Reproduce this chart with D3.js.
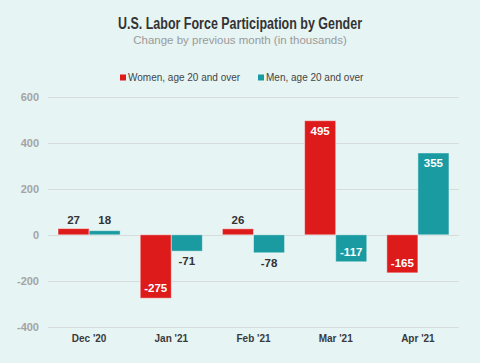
<!DOCTYPE html>
<html>
<head>
<meta charset="utf-8">
<script src="https://cdn.jsdelivr.net/npm/d3@7"></script>
<style>
  body { margin: 0; background: #e6f4f4; }
  svg { display: block; }
</style>
</head>
<body>
<div id="chart"></div>
<script>
const months = ["Dec '20", "Jan '21", "Feb '21", "Mar '21", "Apr '21"]
const seriesNames = ["Women, age 20 and over", "Men, age 20 and over"]
const women = [27, -275, 26, 495, -165]
const men = [18, -71, -78, -117, 355]
const yTicks = [-400, -200, 0, 200, 400, 600]

const colors = ['#dd1b1b', '#1a9ba1']
const width = 480, height = 363
const sans = '"Liberation Sans", Arial, sans-serif'

const rows = months.map((m, i) => ({ month: m, values: [women[i], men[i]] }))

const svg = d3.select('#chart').append('svg')
    .attr('width', width)
    .attr('height', height)

svg.append('rect')
    .attr('width', width).attr('height', height)
    .attr('fill', '#e6f4f4')

// titles (title squeezed to look like the condensed face of the original)
svg.append('text')
    .attr('x', 118).attr('y', 29)
    .attr('textLength', 244)
    .attr('lengthAdjust', 'spacingAndGlyphs')
    .style('font-family', sans)
    .style('font-weight', 'bold')
    .style('font-size', '16px')
    .attr('fill', '#333')
    .text('U.S. Labor Force Participation by Gender')

svg.append('text')
    .attr('x', 240).attr('y', 44)
    .attr('text-anchor', 'middle')
    .style('font-family', sans)
    .style('font-size', '11.5px')
    .attr('fill', '#9a9a9a')
    .text('Change by previous month (in thousands)')

// legend
const legendX = [120, 258]
seriesNames.forEach((name, i) => {
    const g = svg.append('g').attr('transform', `translate(${legendX[i]},81)`)
    g.append('rect')
        .attr('x', 0).attr('y', -6.5)
        .attr('width', 6).attr('height', 6)
        .attr('fill', colors[i])
    g.append('text')
        .attr('x', 8).attr('y', 0)
        .style('font-family', sans)
        .style('font-size', '10px')
        .attr('fill', '#444')
        .text(name)
})

const x0 = d3.scaleBand()
    .domain(months)
    .range([48, 459])
    .paddingInner(0.244)
    .paddingOuter(0.122)

const x1 = d3.scaleBand()
    .domain([0, 1])
    .range([0, x0.bandwidth()])

const y = d3.scaleLinear()
    .domain([-400, 600])
    .range([327, 96.5])

// grid
svg.append('g')
    .selectAll('line')
    .data(yTicks)
    .join('line')
    .attr('x1', 48).attr('x2', 459)
    .attr('y1', d => Math.round(y(d)) + 0.5)
    .attr('y2', d => Math.round(y(d)) + 0.5)
    .attr('stroke', '#d6dcdc')
    .attr('stroke-width', 1)

// y axis labels
const yAxis = svg.append('g')
    .attr('transform', 'translate(39,0)')
    .call(d3.axisLeft(y).tickValues(yTicks).tickSize(0).tickPadding(0))
yAxis.select('.domain').remove()
yAxis.selectAll('text')
    .text(d => d)
    .style('font-family', sans)
    .style('font-weight', 'bold')
    .style('font-size', '11px')
    .attr('fill', '#a4a4a4')

// x axis labels
const xAxis = svg.append('g')
    .attr('transform', 'translate(0,335)')
    .call(d3.axisBottom(x0).tickSize(0).tickPadding(0))
xAxis.select('.domain').remove()
xAxis.selectAll('text')
    .style('font-family', sans)
    .style('font-weight', 'bold')
    .style('font-size', '10px')
    .attr('fill', '#3a3a3a')

// bars
const groups = svg.append('g')
    .selectAll('g')
    .data(rows)
    .join('g')
    .attr('transform', d => `translate(${x0(d.month)},0)`)

const cells = groups.selectAll('g')
    .data(d => d.values.map((v, i) => ({ v: v, s: i })))
    .join('g')

cells.append('rect')
    .attr('x', d => x1(d.s))
    .attr('width', x1.bandwidth())
    .attr('y', d => Math.min(y(d.v), y(0)))
    .attr('height', d => Math.abs(y(d.v) - y(0)))
    .attr('fill', d => colors[d.s])
    .attr('stroke', 'rgba(255,255,255,0.45)')
    .attr('stroke-width', 1)

// value labels: large bars inside (white), small bars outside (dark)
cells.append('text')
    .attr('x', d => x1(d.s) + x1.bandwidth() / 2)
    .attr('y', d => {
        const inside = Math.abs(d.v) > 100
        if (d.v >= 0) return inside ? y(d.v) + 14 : y(0) - 11
        return inside ? y(d.v) - 6 : y(d.v) + 14
    })
    .attr('text-anchor', 'middle')
    .style('font-family', sans)
    .style('font-weight', 'bold')
    .style('font-size', '11.5px')
    .attr('fill', d => Math.abs(d.v) > 100 ? '#fff' : '#333')
    .text(d => d.v)
</script>
</body>
</html>
